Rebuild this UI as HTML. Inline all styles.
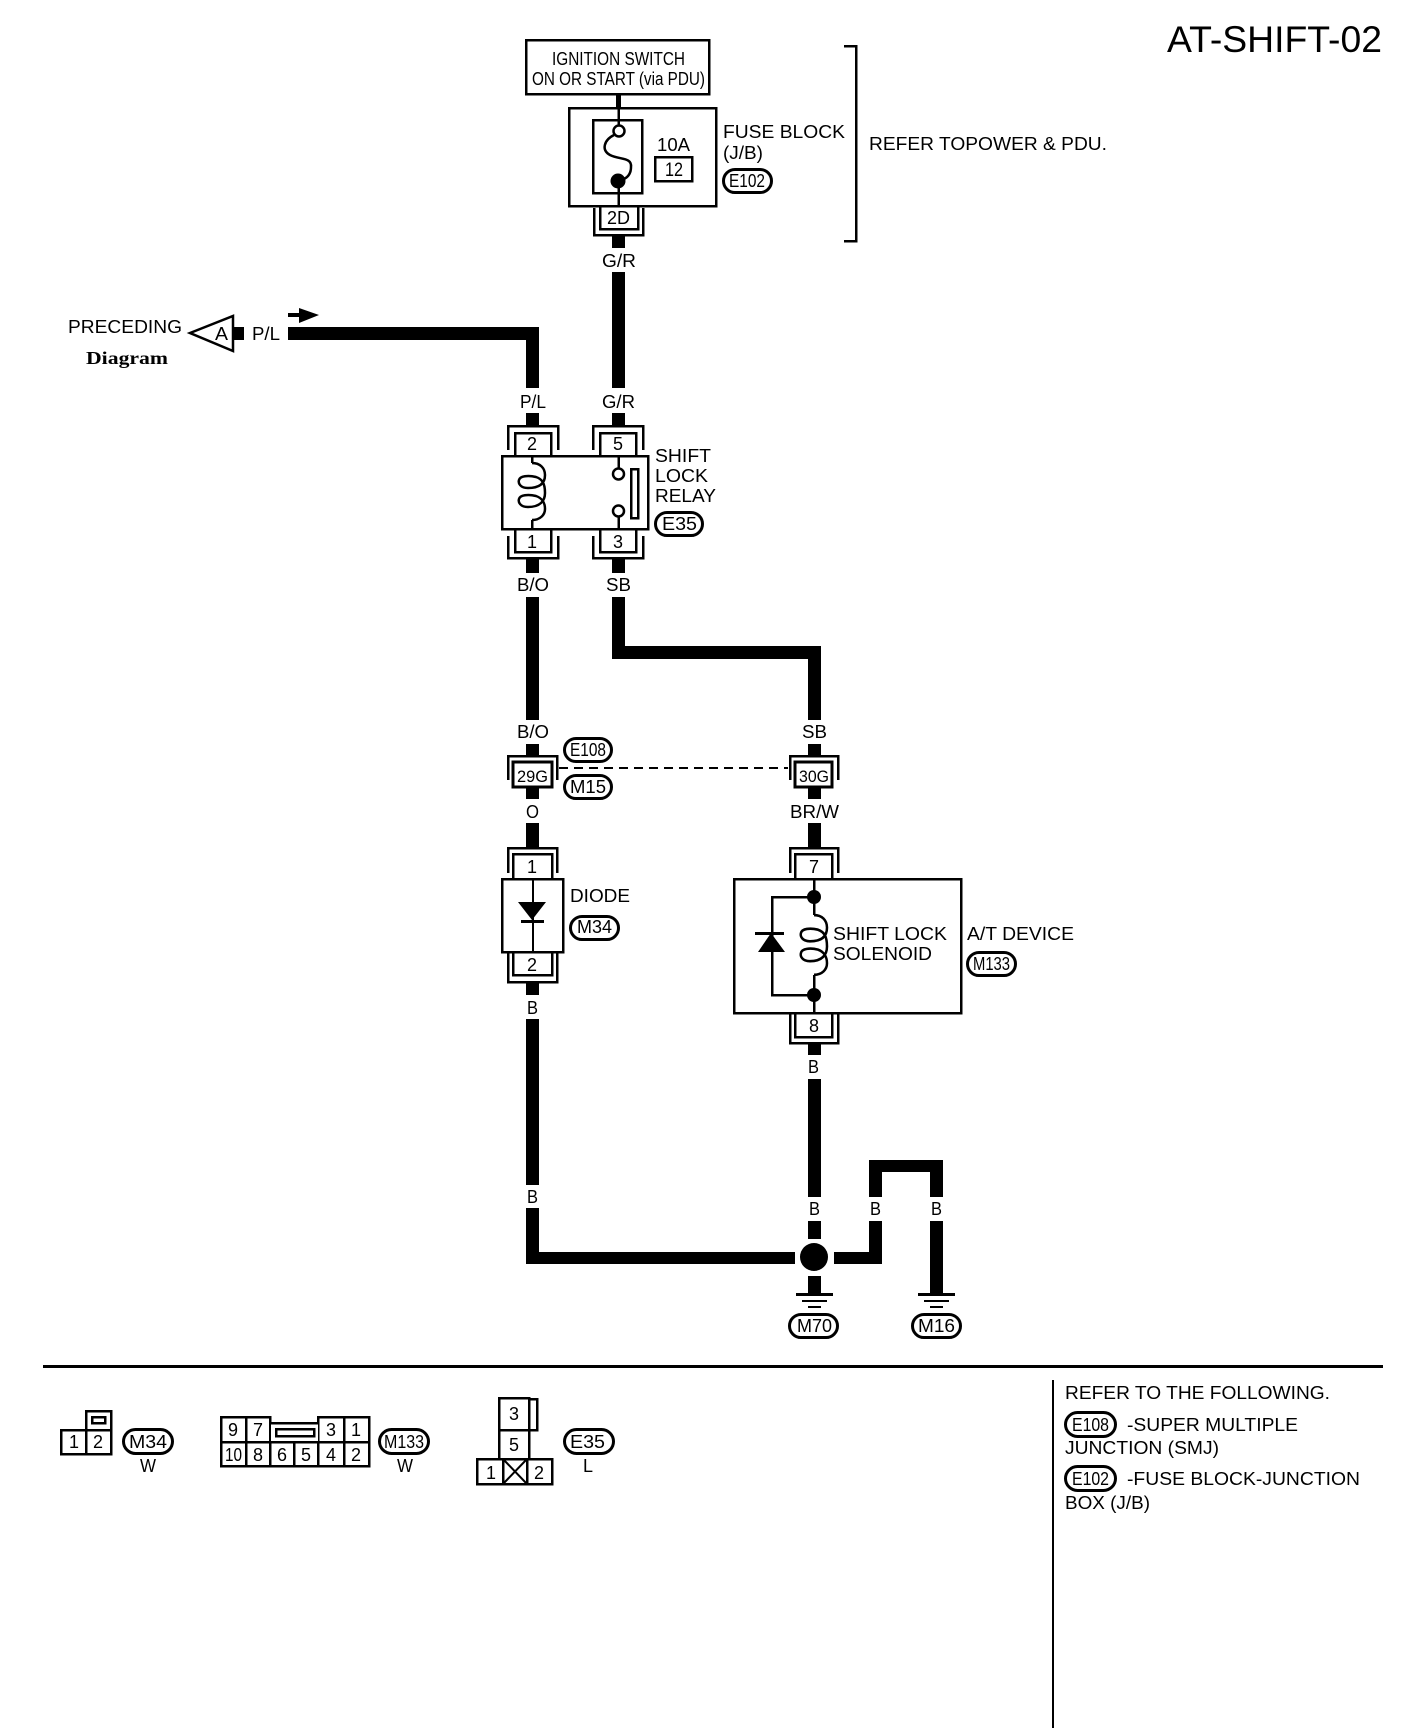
<!DOCTYPE html>
<html><head><meta charset="utf-8"><style>
html,body{margin:0;padding:0;background:#fff;width:1408px;height:1728px;overflow:hidden}
svg{display:block}
text{font-family:"Liberation Sans",sans-serif;font-size:18px;fill:#000}
.w{fill:#000;stroke:none}
.l{fill:none;stroke:#000;stroke-width:2.5}
.t{fill:none;stroke:#000;stroke-width:2.5;shape-rendering:geometricPrecision}
.p{fill:#fff;stroke:#000;stroke-width:3}
</style></head><body>
<svg width="1408" height="1728" viewBox="0 0 1408 1728" xmlns="http://www.w3.org/2000/svg">
<defs>
<path id="coil" class="t" d="M0,0 C8,0 13,5 13,12 C13,20 8,25 -4,25 C-12,25 -14,20 -13,17 C-12,13 -4,12 4,14 C10,16 13,20 13,30 C13,38 8,44 -4,44 C-12,44 -14,39 -13,36 C-12,32 -4,31 4,33 C10,35 13,40 13,46 C13,52 8,57 0,57"/>
</defs>
<g shape-rendering="crispEdges">
<!-- thick wires -->
<rect class="w" x="616" y="95" width="5" height="12"/>
<rect class="w" x="612" y="236" width="13" height="12"/>
<rect class="w" x="612" y="272" width="13" height="116"/>
<rect class="w" x="612" y="413" width="13" height="12"/>
<rect class="w" x="288" y="327" width="251" height="13"/>
<rect class="w" x="526" y="327" width="13" height="61"/>
<rect class="w" x="526" y="413" width="13" height="12"/>
<rect class="w" x="233" y="327" width="11" height="13"/>
<rect class="w" x="526" y="559" width="13" height="14"/>
<rect class="w" x="612" y="559" width="13" height="14"/>
<rect class="w" x="526" y="597" width="13" height="123"/>
<rect class="w" x="612" y="597" width="13" height="62"/>
<rect class="w" x="612" y="646" width="209" height="13"/>
<rect class="w" x="808" y="646" width="13" height="74"/>
<rect class="w" x="526" y="744" width="13" height="11"/>
<rect class="w" x="808" y="744" width="13" height="11"/>
<rect class="w" x="526" y="787" width="13" height="12"/>
<rect class="w" x="808" y="787" width="13" height="12"/>
<rect class="w" x="526" y="823" width="13" height="24"/>
<rect class="w" x="808" y="823" width="13" height="24"/>
<rect class="w" x="526" y="983" width="13" height="12"/>
<rect class="w" x="808" y="1044" width="13" height="11"/>
<rect class="w" x="526" y="1019" width="13" height="166"/>
<rect class="w" x="808" y="1079" width="13" height="118"/>
<rect class="w" x="526" y="1208" width="13" height="56"/>
<rect class="w" x="526" y="1252" width="269" height="12"/>
<rect class="w" x="808" y="1221" width="13" height="18"/>
<rect class="w" x="808" y="1276" width="13" height="17"/>
<rect class="w" x="834" y="1252" width="48" height="12"/>
<rect class="w" x="869" y="1221" width="13" height="43"/>
<rect class="w" x="869" y="1160" width="13" height="37"/>
<rect class="w" x="869" y="1160" width="74" height="12"/>
<rect class="w" x="930" y="1160" width="13" height="37"/>
<rect class="w" x="930" y="1221" width="13" height="72"/>
<!-- ground -->
<rect class="w" x="796" y="1293" width="37" height="3"/><rect class="w" x="802" y="1300" width="25" height="2"/><rect class="w" x="808" y="1306" width="13" height="2"/>
<rect class="w" x="918" y="1293" width="37" height="3"/><rect class="w" x="924" y="1300" width="25" height="2"/><rect class="w" x="930" y="1306" width="13" height="2"/>
<!-- ignition + fuse -->
<rect class="l" x="526" y="40" width="183" height="54"/>
<rect class="l" x="569" y="108" width="147" height="98"/>
<rect class="l" x="593" y="120" width="49" height="73"/>
<rect class="l" x="655" y="157" width="37" height="24"/>
<path class="l" d="M618.5,107V125 M618.5,181V206"/>
<!-- 2D connector -->
<path class="l" d="M600,206V229H638V206 M594,208V235H643V208"/>
<!-- bracket -->
<path class="l" d="M844,46H856V241H844"/>
<!-- relay -->
<rect class="l" x="502" y="456" width="146" height="73"/>
<path class="l" d="M508,450V426H558V450 M515,455V433H551V455"/>
<path class="l" d="M593,450V426H643V450 M600,455V433H636V455"/>
<path class="l" d="M508,536V558H558V536 M515,530V552H551V530"/>
<path class="l" d="M593,536V558H643V536 M600,530V552H636V530"/>
<rect class="l" x="631" y="469" width="7" height="49"/>
<path class="l" d="M618.5,456V468 M618.5,517V530 M532,456V463 M532,520V530"/>
<!-- 29G 30G -->
<rect class="p" x="513" y="762" width="39" height="25"/>
<rect class="p" x="795" y="762" width="37" height="25"/>
<path class="l" d="M508,780V756H557V780"/>
<path class="l" d="M790,780V756H838V780"/>
<path d="M559,768H788" stroke="#000" stroke-width="2" stroke-dasharray="9 6" fill="none"/>
<!-- diode -->
<rect class="l" x="502" y="879" width="61" height="73"/>
<path class="l" d="M508,873V848H557V873 M513,878V854H552V878"/>
<path class="l" d="M508,952V982H557V952 M513,952V975H552V952"/>
<path d="M533,879V952" stroke="#000" stroke-width="2" fill="none"/>
<rect class="w" x="521" y="920" width="23" height="3"/>
<!-- AT device -->
<rect class="l" x="734" y="879" width="227" height="134"/>
<path class="l" d="M790,873V848H838V873 M795,878V854H832V878"/>
<path class="l" d="M790,1013V1043H838V1013 M795,1013V1037H832V1013"/>
<path class="l" d="M814,879V915 M814,975V1013 M814,897H772V995H814"/>
<rect class="w" x="755" y="932" width="29" height="3"/>
<!-- bottom rule -->
<rect class="w" x="43" y="1365" width="1340" height="3"/>
<rect class="w" x="1052" y="1380" width="2" height="348"/>
<!-- M34 connector -->
<rect class="l" x="61" y="1430" width="50" height="24"/>
<path class="l" d="M86,1430V1454"/>
<rect class="l" x="86" y="1411" width="25" height="19"/>
<rect class="l" x="92" y="1417" width="13" height="6"/>
<!-- M133 connector -->
<path class="l" d="M221,1442V1417H270V1423H318V1417H369V1466H221V1442H369 M246,1417V1466 M270,1417V1466 M294,1442V1466 M318,1417V1466 M344,1417V1466"/>
<rect x="271" y="1424" width="47" height="17" fill="#fff"/>
<path class="l" d="M270,1423H318"/>
<rect class="l" x="276" y="1429" width="38" height="7"/>
<!-- E35 connector -->
<rect class="l" x="499" y="1398" width="30" height="32"/>
<path class="l" d="M529,1399H537V1430H529"/>
<rect class="l" x="499" y="1430" width="30" height="29"/>
<rect class="l" x="477" y="1459" width="75" height="25"/>
<path class="l" d="M503,1459V1484 M527,1459V1484"/>
</g>
<path d="M503,1459L527,1484M527,1459L503,1484" stroke="#000" stroke-width="2" fill="none"/>

<!-- fuse internals -->
<circle class="t" cx="619" cy="131" r="5.5" fill="#fff"/>
<circle cx="618" cy="181" r="7.5" fill="#000"/>
<path class="t" d="M614,135 C604,140 601,150 610,155 C620,160 632,157 631,167 C631,173 628,177 624,179"/>
<!-- relay internals -->
<circle class="t" cx="618.5" cy="474" r="5.5"/>
<circle class="t" cx="618.5" cy="511" r="5.5"/>
<use href="#coil" transform="translate(532,463)"/>
<use href="#coil" transform="translate(814,915) scale(1,1.05)"/>
<!-- diodes -->
<polygon points="518,902 546,902 532,920" fill="#000"/>
<polygon points="771,933 758,952 785,952" fill="#000"/>
<circle cx="814" cy="897" r="7" fill="#000"/>
<circle cx="814" cy="995" r="7" fill="#000"/>
<circle cx="814" cy="1257" r="14" fill="#000"/>
<!-- arrow and triangle -->
<polygon points="190,333 233,316 233,351" fill="#fff" stroke="#000" stroke-width="2.5"/>
<rect x="288" y="313" width="11" height="4" fill="#000"/>
<polygon points="299,308 319,315 299,323" fill="#000"/>
<!-- pills -->
<rect class="p" x="723.5" y="169.5" width="48" height="23" rx="11.5"/>
<rect class="p" x="655.5" y="512.5" width="47" height="23" rx="11.5"/>
<rect class="p" x="564.5" y="738.5" width="47" height="23" rx="11.5"/>
<rect class="p" x="564.5" y="775.5" width="47" height="23" rx="11.5"/>
<rect class="p" x="570.5" y="916.5" width="48" height="23" rx="11.5"/>
<rect class="p" x="967.5" y="952.5" width="48" height="23" rx="11.5"/>
<rect class="p" x="789.5" y="1314.5" width="48" height="23" rx="11.5"/>
<rect class="p" x="912.5" y="1314.5" width="48" height="23" rx="11.5"/>
<rect class="p" x="123.5" y="1429.5" width="49" height="24" rx="12"/>
<rect class="p" x="379.5" y="1429.5" width="49" height="24" rx="12"/>
<rect class="p" x="564.5" y="1429.5" width="49" height="24" rx="12"/>
<rect class="p" x="1065.5" y="1412.5" width="50" height="24" rx="12"/>
<rect class="p" x="1065.5" y="1466.5" width="50" height="24" rx="12"/>

<!-- text -->
<text x="1167" y="52" style="font-size:37px" textLength="215" lengthAdjust="spacingAndGlyphs">AT-SHIFT-02</text>
<text x="552" y="65" textLength="133" lengthAdjust="spacingAndGlyphs">IGNITION SWITCH</text>
<text x="532" y="85" textLength="173" lengthAdjust="spacingAndGlyphs">ON OR START (via PDU)</text>
<text x="723" y="138" textLength="122" lengthAdjust="spacingAndGlyphs">FUSE BLOCK</text>
<text x="723" y="159" textLength="40" lengthAdjust="spacingAndGlyphs">(J/B)</text>
<text x="729" y="187" textLength="36" lengthAdjust="spacingAndGlyphs">E102</text>
<text x="657" y="151" textLength="33" lengthAdjust="spacingAndGlyphs">10A</text>
<text x="665" y="176" style="font-size:19px" textLength="18" lengthAdjust="spacingAndGlyphs">12</text>
<text x="607" y="224" textLength="23" lengthAdjust="spacingAndGlyphs">2D</text>
<text x="602" y="267" textLength="34" lengthAdjust="spacingAndGlyphs">G/R</text>
<text x="869" y="150" textLength="238" lengthAdjust="spacingAndGlyphs">REFER TOPOWER &amp; PDU.</text>
<text x="68" y="333" textLength="114" lengthAdjust="spacingAndGlyphs">PRECEDING</text>
<text x="86" y="364" style="font-family:'Liberation Serif',serif;font-weight:bold;font-size:18px" textLength="82" lengthAdjust="spacingAndGlyphs">Diagram</text>
<text x="215" y="340" textLength="13" lengthAdjust="spacingAndGlyphs">A</text>
<text x="252" y="340" textLength="28" lengthAdjust="spacingAndGlyphs">P/L</text>
<text x="520" y="408" textLength="26" lengthAdjust="spacingAndGlyphs">P/L</text>
<text x="602" y="408" textLength="33" lengthAdjust="spacingAndGlyphs">G/R</text>
<text x="527" y="450" textLength="10" lengthAdjust="spacingAndGlyphs">2</text>
<text x="613" y="450" textLength="10" lengthAdjust="spacingAndGlyphs">5</text>
<text x="527" y="548" textLength="10" lengthAdjust="spacingAndGlyphs">1</text>
<text x="613" y="548" textLength="10" lengthAdjust="spacingAndGlyphs">3</text>
<text x="655" y="462" textLength="56" lengthAdjust="spacingAndGlyphs">SHIFT</text>
<text x="655" y="482" textLength="53" lengthAdjust="spacingAndGlyphs">LOCK</text>
<text x="655" y="502" textLength="61" lengthAdjust="spacingAndGlyphs">RELAY</text>
<text x="662" y="530" textLength="35" lengthAdjust="spacingAndGlyphs">E35</text>
<text x="517" y="591" textLength="32" lengthAdjust="spacingAndGlyphs">B/O</text>
<text x="606" y="591" textLength="25" lengthAdjust="spacingAndGlyphs">SB</text>
<text x="517" y="738" textLength="32" lengthAdjust="spacingAndGlyphs">B/O</text>
<text x="802" y="738" textLength="25" lengthAdjust="spacingAndGlyphs">SB</text>
<text x="570" y="756" textLength="36" lengthAdjust="spacingAndGlyphs">E108</text>
<text x="570" y="793" textLength="36" lengthAdjust="spacingAndGlyphs">M15</text>
<text x="517" y="782" style="font-size:17px" textLength="31" lengthAdjust="spacingAndGlyphs">29G</text>
<text x="799" y="782" style="font-size:17px" textLength="30" lengthAdjust="spacingAndGlyphs">30G</text>
<text x="526" y="818" textLength="13" lengthAdjust="spacingAndGlyphs">O</text>
<text x="790" y="818" textLength="49" lengthAdjust="spacingAndGlyphs">BR/W</text>
<text x="527" y="873" textLength="10" lengthAdjust="spacingAndGlyphs">1</text>
<text x="527" y="971" textLength="10" lengthAdjust="spacingAndGlyphs">2</text>
<text x="809" y="873" textLength="10" lengthAdjust="spacingAndGlyphs">7</text>
<text x="809" y="1032" textLength="10" lengthAdjust="spacingAndGlyphs">8</text>
<text x="570" y="902" textLength="60" lengthAdjust="spacingAndGlyphs">DIODE</text>
<text x="577" y="933" textLength="35" lengthAdjust="spacingAndGlyphs">M34</text>
<text x="833" y="940" textLength="114" lengthAdjust="spacingAndGlyphs">SHIFT LOCK</text>
<text x="833" y="960" textLength="99" lengthAdjust="spacingAndGlyphs">SOLENOID</text>
<text x="967" y="940" textLength="107" lengthAdjust="spacingAndGlyphs">A/T DEVICE</text>
<text x="973" y="970" textLength="37" lengthAdjust="spacingAndGlyphs">M133</text>
<text x="527" y="1014" textLength="11" lengthAdjust="spacingAndGlyphs">B</text>
<text x="808" y="1073" textLength="11" lengthAdjust="spacingAndGlyphs">B</text>
<text x="527" y="1203" textLength="11" lengthAdjust="spacingAndGlyphs">B</text>
<text x="809" y="1215" textLength="11" lengthAdjust="spacingAndGlyphs">B</text>
<text x="870" y="1215" textLength="11" lengthAdjust="spacingAndGlyphs">B</text>
<text x="931" y="1215" textLength="11" lengthAdjust="spacingAndGlyphs">B</text>
<text x="797" y="1332" textLength="35" lengthAdjust="spacingAndGlyphs">M70</text>
<text x="918" y="1332" textLength="37" lengthAdjust="spacingAndGlyphs">M16</text>
<text x="69" y="1448" textLength="10" lengthAdjust="spacingAndGlyphs">1</text>
<text x="93" y="1448" textLength="10" lengthAdjust="spacingAndGlyphs">2</text>
<text x="129" y="1448" textLength="38" lengthAdjust="spacingAndGlyphs">M34</text>
<text x="140" y="1472" textLength="16" lengthAdjust="spacingAndGlyphs">W</text>
<text x="228" y="1436" textLength="10" lengthAdjust="spacingAndGlyphs">9</text>
<text x="253" y="1436" textLength="10" lengthAdjust="spacingAndGlyphs">7</text>
<text x="326" y="1436" textLength="10" lengthAdjust="spacingAndGlyphs">3</text>
<text x="351" y="1436" textLength="10" lengthAdjust="spacingAndGlyphs">1</text>
<text x="225" y="1461" textLength="17" lengthAdjust="spacingAndGlyphs">10</text>
<text x="253" y="1461" textLength="10" lengthAdjust="spacingAndGlyphs">8</text>
<text x="277" y="1461" textLength="10" lengthAdjust="spacingAndGlyphs">6</text>
<text x="301" y="1461" textLength="10" lengthAdjust="spacingAndGlyphs">5</text>
<text x="326" y="1461" textLength="10" lengthAdjust="spacingAndGlyphs">4</text>
<text x="351" y="1461" textLength="10" lengthAdjust="spacingAndGlyphs">2</text>
<text x="384" y="1448" textLength="40" lengthAdjust="spacingAndGlyphs">M133</text>
<text x="397" y="1472" textLength="16" lengthAdjust="spacingAndGlyphs">W</text>
<text x="509" y="1420" textLength="10" lengthAdjust="spacingAndGlyphs">3</text>
<text x="509" y="1451" textLength="10" lengthAdjust="spacingAndGlyphs">5</text>
<text x="486" y="1479" textLength="10" lengthAdjust="spacingAndGlyphs">1</text>
<text x="534" y="1479" textLength="10" lengthAdjust="spacingAndGlyphs">2</text>
<text x="570" y="1448" textLength="35" lengthAdjust="spacingAndGlyphs">E35</text>
<text x="583" y="1472" textLength="10" lengthAdjust="spacingAndGlyphs">L</text>
<text x="1065" y="1396" textLength="265" lengthAdjust="spacingAndGlyphs" transform="translate(0,3)">REFER TO THE FOLLOWING.</text>
<text x="1072" y="1431" textLength="37" lengthAdjust="spacingAndGlyphs">E108</text>
<text x="1127" y="1431" textLength="171" lengthAdjust="spacingAndGlyphs">-SUPER MULTIPLE</text>
<text x="1065" y="1454" textLength="154" lengthAdjust="spacingAndGlyphs">JUNCTION (SMJ)</text>
<text x="1072" y="1485" textLength="37" lengthAdjust="spacingAndGlyphs">E102</text>
<text x="1127" y="1485" textLength="233" lengthAdjust="spacingAndGlyphs">-FUSE BLOCK-JUNCTION</text>
<text x="1065" y="1509" textLength="85" lengthAdjust="spacingAndGlyphs">BOX (J/B)</text>
</svg>
</body></html>
